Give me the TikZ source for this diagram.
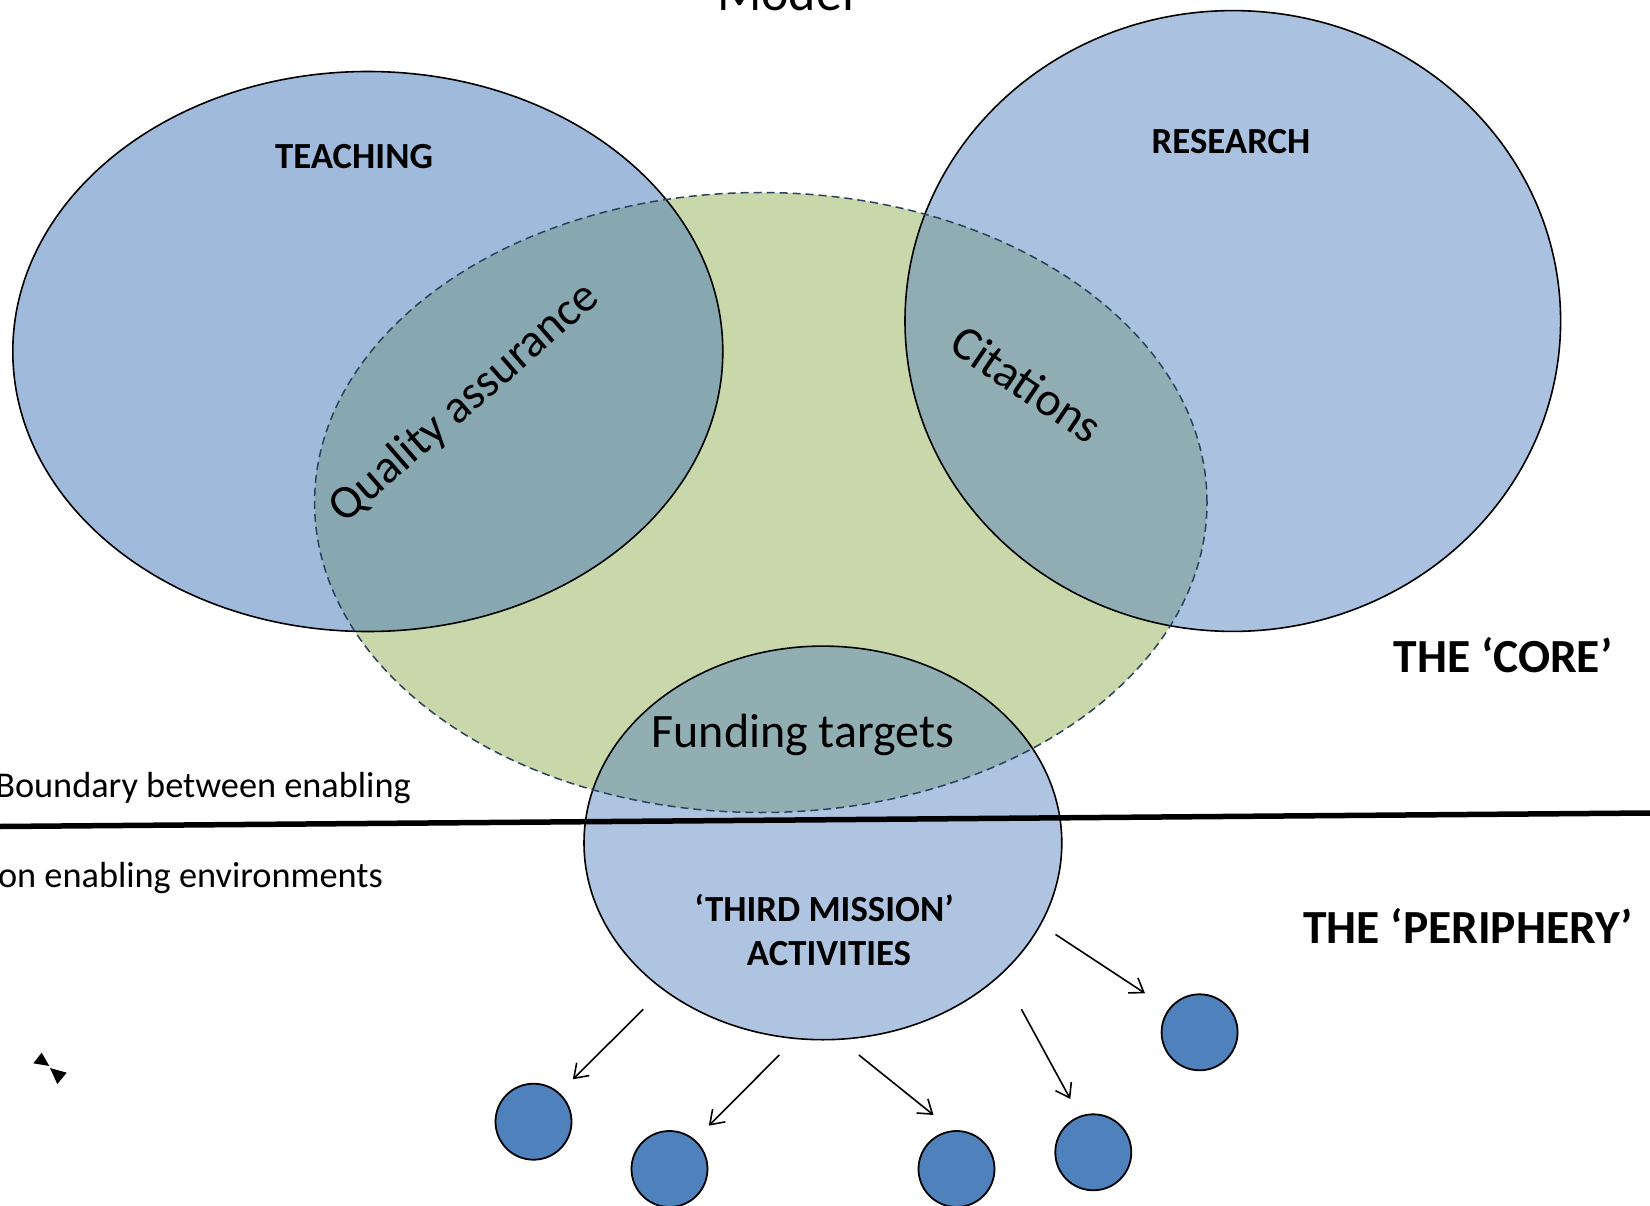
\documentclass[tikz,border=0pt]{standalone}
\usepackage{fontspec}
\setmainfont{Carlito}
\usetikzlibrary{shapes.geometric,arrows.meta}
\definecolor{cTeach}{HTML}{A0BADC}
\definecolor{cRes}{HTML}{AAC2DF}
\definecolor{cGreen}{HTML}{C8D8AA}
\definecolor{cTG}{HTML}{87A8B1}
\definecolor{cRG}{HTML}{8FADB3}
\definecolor{cThird}{HTML}{AEC4E0}
\definecolor{cThG}{HTML}{91AFB2}
\definecolor{cDot}{HTML}{4F81BD}
\definecolor{cDash}{HTML}{2A4260}
\begin{document}
\begin{tikzpicture}[x=1pt,y=-1pt,
  bigell/.style={ellipse, inner sep=0pt, outer sep=0pt, draw=black, line width=1.6pt},
  greenell/.style={ellipse, inner sep=0pt, outer sep=0pt, draw=cDash, line width=1.5pt, dash pattern=on 8pt off 5pt},
  dot/.style={circle, inner sep=0pt, outer sep=0pt, minimum size=76pt, fill=cDot, draw=black, line width=1.8pt},
  arr/.style={line width=1.6pt, -{Straight Barb[length=13pt,width=18pt,line width=1.6pt]}},
  lbl/.style={inner sep=0pt, font=\fontsize{48}{56}\selectfont},
  captxt/.style={inner sep=0pt, font=\fontsize{36.8}{42}\selectfont\bfseries},
  bigtxt/.style={inner sep=0pt, font=\fontsize{47.5}{54}\selectfont\bfseries},
  sidetxt/.style={inner sep=0pt, font=\fontsize{36.3}{42}\selectfont}]
\useasboundingbox (0,0) rectangle (1650,1206);
% fills
\fill[cTeach] (367.8,351.5) ellipse [x radius=355pt, y radius=280pt];
\fill[cRes] (1232.8,321) ellipse [x radius=327.8pt, y radius=310.4pt];
\fill[cGreen] (760.8,502.5) ellipse [x radius=446.2pt, y radius=310pt];
\begin{scope}
  \clip (760.8,502.5) ellipse [x radius=446.2pt, y radius=310pt];
  \fill[cTG] (367.8,351.5) ellipse [x radius=355pt, y radius=280pt];
  \fill[cRG] (1232.8,321) ellipse [x radius=327.8pt, y radius=310.4pt];
\end{scope}
\fill[cThird] (822.9,842.9) ellipse [x radius=238.9pt, y radius=196.8pt];
\begin{scope}
  \clip (760.8,502.5) ellipse [x radius=446.2pt, y radius=310pt];
  \fill[cThG] (822.9,842.9) ellipse [x radius=238.9pt, y radius=196.8pt];
\end{scope}
% outlines as named nodes
\node[bigell, minimum width=710pt, minimum height=560pt] (teach) at (367.8,351.5) {};
\node[bigell, minimum width=655.6pt, minimum height=620.8pt] (res) at (1232.8,321) {};
\node[bigell, minimum width=477.8pt, minimum height=393.6pt] (third) at (822.9,842.9) {};
\node[greenell, minimum width=892.4pt, minimum height=620pt] (core) at (760.8,502.5) {};
% boundary line
\coordinate (bl) at (0,826.5);
\coordinate (br) at (1650,813);
\draw[line width=5.5pt] (bl) -- (br);
% small circles
\node[dot] (d1) at (533.5,1121.7) {};
\node[dot] (d2) at (669.5,1169) {};
\node[dot] (d3) at (956.5,1169) {};
\node[dot] (d4) at (1093.3,1152.3) {};
\node[dot] (d5) at (1199.6,1032.3) {};
% arrows
\coordinate (a1s) at (643.3,1009.3); \coordinate (a1e) at (572.8,1079.3);
\coordinate (a2s) at (779.3,1055);   \coordinate (a2e) at (708.8,1125.7);
\coordinate (a3s) at (858.9,1055);   \coordinate (a3e) at (933.5,1115);
\coordinate (a4s) at (1021.4,1009.3);\coordinate (a4e) at (1070.3,1099);
\coordinate (a5s) at (1055.5,934.4); \coordinate (a5e) at (1145,993.3);
\draw[arr] (a1s) -- (a1e);
\draw[arr] (a2s) -- (a2e);
\draw[arr] (a3s) -- (a3e);
\draw[arr] (a4s) -- (a4e);
\draw[arr] (a5s) -- (a5e);
% texts
\node[inner sep=0pt, anchor=base, font=\fontsize{52}{60}\selectfont] (model) at (785.5,11) {Model};
\node[captxt] (tteach) at (354,157) {TEACHING};
\node[captxt] (tres) at (1231,142) {RESEARCH};
\node[lbl, rotate=41, font=\fontsize{47.3}{56}\selectfont] (tqa) at (465,403) {Quality assurance};
\node[lbl, rotate=-34] (tcit) at (1027,384) {Citations};
\node[lbl] (tfund) at (803,735) {Funding targets};
\node[captxt] (tthird1) at (824,908) {‘THIRD MISSION’};
\node[captxt] (tthird2) at (829,954) {ACTIVITIES};
\node[bigtxt] (tcore) at (1503,655) {THE ‘CORE’};
\node[bigtxt] (tper) at (1468,926) {THE ‘PERIPHERY’};
\node[sidetxt, anchor=base east] (tb1) at (411,797) {Boundary between enabling};
\node[sidetxt, anchor=base east] (tb2) at (383,887) {Non enabling environments};
% small bowtie mark
\fill[black] (41.7,1052.7) -- (33.3,1063.3) -- (49.3,1066) -- cycle;
\fill[black] (50,1068) -- (66.7,1072.7) -- (57.3,1084) -- cycle;
\end{tikzpicture}
\end{document}
